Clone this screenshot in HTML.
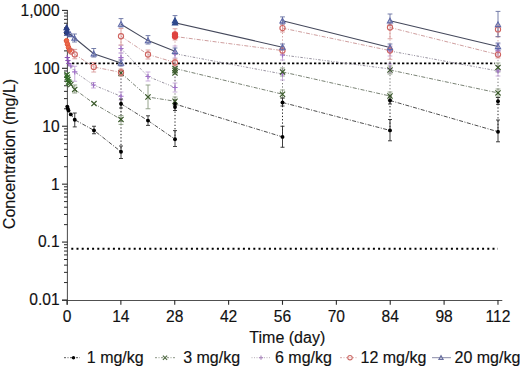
<!DOCTYPE html>
<html><head><meta charset="utf-8"><style>
html,body{margin:0;padding:0;background:#fff;}
svg{display:block;}
.t{font-family:"Liberation Sans",sans-serif;font-size:15.6px;fill:#111;stroke:#111;stroke-width:0.15px;}
.t2{font-family:"Liberation Sans",sans-serif;font-size:16px;fill:#111;stroke:#111;stroke-width:0.15px;}
</style></head><body>
<svg width="520" height="368" viewBox="0 0 520 368">
<rect width="520" height="368" fill="#fff"/>
<line x1="67.4" y1="10" x2="67.4" y2="304.8" stroke="#505050" stroke-width="1.05"/>
<line x1="62" y1="300.5" x2="502.3" y2="300.5" stroke="#505050" stroke-width="1.05"/>
<line x1="62" y1="300.00" x2="67.5" y2="300.00" stroke="#2a2a2a" stroke-width="1.1"/>
<line x1="64" y1="282.56" x2="67.5" y2="282.56" stroke="#2a2a2a" stroke-width="1"/>
<line x1="64" y1="272.37" x2="67.5" y2="272.37" stroke="#2a2a2a" stroke-width="1"/>
<line x1="64" y1="265.13" x2="67.5" y2="265.13" stroke="#2a2a2a" stroke-width="1"/>
<line x1="64" y1="259.52" x2="67.5" y2="259.52" stroke="#2a2a2a" stroke-width="1"/>
<line x1="64" y1="254.93" x2="67.5" y2="254.93" stroke="#2a2a2a" stroke-width="1"/>
<line x1="64" y1="251.05" x2="67.5" y2="251.05" stroke="#2a2a2a" stroke-width="1"/>
<line x1="64" y1="247.69" x2="67.5" y2="247.69" stroke="#2a2a2a" stroke-width="1"/>
<line x1="64" y1="244.73" x2="67.5" y2="244.73" stroke="#2a2a2a" stroke-width="1"/>
<line x1="62" y1="242.08" x2="67.5" y2="242.08" stroke="#2a2a2a" stroke-width="1.1"/>
<line x1="64" y1="224.64" x2="67.5" y2="224.64" stroke="#2a2a2a" stroke-width="1"/>
<line x1="64" y1="214.45" x2="67.5" y2="214.45" stroke="#2a2a2a" stroke-width="1"/>
<line x1="64" y1="207.21" x2="67.5" y2="207.21" stroke="#2a2a2a" stroke-width="1"/>
<line x1="64" y1="201.60" x2="67.5" y2="201.60" stroke="#2a2a2a" stroke-width="1"/>
<line x1="64" y1="197.01" x2="67.5" y2="197.01" stroke="#2a2a2a" stroke-width="1"/>
<line x1="64" y1="193.13" x2="67.5" y2="193.13" stroke="#2a2a2a" stroke-width="1"/>
<line x1="64" y1="189.77" x2="67.5" y2="189.77" stroke="#2a2a2a" stroke-width="1"/>
<line x1="64" y1="186.81" x2="67.5" y2="186.81" stroke="#2a2a2a" stroke-width="1"/>
<line x1="62" y1="184.16" x2="67.5" y2="184.16" stroke="#2a2a2a" stroke-width="1.1"/>
<line x1="64" y1="166.72" x2="67.5" y2="166.72" stroke="#2a2a2a" stroke-width="1"/>
<line x1="64" y1="156.53" x2="67.5" y2="156.53" stroke="#2a2a2a" stroke-width="1"/>
<line x1="64" y1="149.29" x2="67.5" y2="149.29" stroke="#2a2a2a" stroke-width="1"/>
<line x1="64" y1="143.68" x2="67.5" y2="143.68" stroke="#2a2a2a" stroke-width="1"/>
<line x1="64" y1="139.09" x2="67.5" y2="139.09" stroke="#2a2a2a" stroke-width="1"/>
<line x1="64" y1="135.21" x2="67.5" y2="135.21" stroke="#2a2a2a" stroke-width="1"/>
<line x1="64" y1="131.85" x2="67.5" y2="131.85" stroke="#2a2a2a" stroke-width="1"/>
<line x1="64" y1="128.89" x2="67.5" y2="128.89" stroke="#2a2a2a" stroke-width="1"/>
<line x1="62" y1="126.24" x2="67.5" y2="126.24" stroke="#2a2a2a" stroke-width="1.1"/>
<line x1="64" y1="108.80" x2="67.5" y2="108.80" stroke="#2a2a2a" stroke-width="1"/>
<line x1="64" y1="98.61" x2="67.5" y2="98.61" stroke="#2a2a2a" stroke-width="1"/>
<line x1="64" y1="91.37" x2="67.5" y2="91.37" stroke="#2a2a2a" stroke-width="1"/>
<line x1="64" y1="85.76" x2="67.5" y2="85.76" stroke="#2a2a2a" stroke-width="1"/>
<line x1="64" y1="81.17" x2="67.5" y2="81.17" stroke="#2a2a2a" stroke-width="1"/>
<line x1="64" y1="77.29" x2="67.5" y2="77.29" stroke="#2a2a2a" stroke-width="1"/>
<line x1="64" y1="73.93" x2="67.5" y2="73.93" stroke="#2a2a2a" stroke-width="1"/>
<line x1="64" y1="70.97" x2="67.5" y2="70.97" stroke="#2a2a2a" stroke-width="1"/>
<line x1="62" y1="68.32" x2="67.5" y2="68.32" stroke="#2a2a2a" stroke-width="1.1"/>
<line x1="64" y1="50.88" x2="67.5" y2="50.88" stroke="#2a2a2a" stroke-width="1"/>
<line x1="64" y1="40.69" x2="67.5" y2="40.69" stroke="#2a2a2a" stroke-width="1"/>
<line x1="64" y1="33.45" x2="67.5" y2="33.45" stroke="#2a2a2a" stroke-width="1"/>
<line x1="64" y1="27.84" x2="67.5" y2="27.84" stroke="#2a2a2a" stroke-width="1"/>
<line x1="64" y1="23.25" x2="67.5" y2="23.25" stroke="#2a2a2a" stroke-width="1"/>
<line x1="64" y1="19.37" x2="67.5" y2="19.37" stroke="#2a2a2a" stroke-width="1"/>
<line x1="64" y1="16.01" x2="67.5" y2="16.01" stroke="#2a2a2a" stroke-width="1"/>
<line x1="64" y1="13.05" x2="67.5" y2="13.05" stroke="#2a2a2a" stroke-width="1"/>
<line x1="62" y1="10.40" x2="67.5" y2="10.40" stroke="#2a2a2a" stroke-width="1.1"/>
<line x1="67.00" y1="300" x2="67.00" y2="304.8" stroke="#2a2a2a" stroke-width="1.1"/>
<line x1="120.87" y1="300" x2="120.87" y2="304.8" stroke="#2a2a2a" stroke-width="1.1"/>
<line x1="174.74" y1="300" x2="174.74" y2="304.8" stroke="#2a2a2a" stroke-width="1.1"/>
<line x1="228.62" y1="300" x2="228.62" y2="304.8" stroke="#2a2a2a" stroke-width="1.1"/>
<line x1="282.49" y1="300" x2="282.49" y2="304.8" stroke="#2a2a2a" stroke-width="1.1"/>
<line x1="336.36" y1="300" x2="336.36" y2="304.8" stroke="#2a2a2a" stroke-width="1.1"/>
<line x1="390.23" y1="300" x2="390.23" y2="304.8" stroke="#2a2a2a" stroke-width="1.1"/>
<line x1="444.10" y1="300" x2="444.10" y2="304.8" stroke="#2a2a2a" stroke-width="1.1"/>
<line x1="497.98" y1="300" x2="497.98" y2="304.8" stroke="#2a2a2a" stroke-width="1.1"/>
<text x="59.6" y="15.80" text-anchor="end" class="t">1,000</text>
<text x="59.6" y="73.72" text-anchor="end" class="t">100</text>
<text x="59.6" y="131.64" text-anchor="end" class="t">10</text>
<text x="59.6" y="189.56" text-anchor="end" class="t">1</text>
<text x="59.6" y="247.48" text-anchor="end" class="t">0.1</text>
<text x="59.6" y="305.40" text-anchor="end" class="t">0.01</text>
<text x="67.00" y="321.5" text-anchor="middle" class="t">0</text>
<text x="120.87" y="321.5" text-anchor="middle" class="t">14</text>
<text x="174.74" y="321.5" text-anchor="middle" class="t">28</text>
<text x="228.62" y="321.5" text-anchor="middle" class="t">42</text>
<text x="282.49" y="321.5" text-anchor="middle" class="t">56</text>
<text x="336.36" y="321.5" text-anchor="middle" class="t">70</text>
<text x="390.23" y="321.5" text-anchor="middle" class="t">84</text>
<text x="444.10" y="321.5" text-anchor="middle" class="t">98</text>
<text x="497.98" y="321.5" text-anchor="middle" class="t">112</text>
<text x="287.3" y="342.9" text-anchor="middle" class="t2">Time (day)</text>
<text transform="translate(14.6,154) rotate(-90)" text-anchor="middle" class="t2">Concentration (mg/L)</text>
<line x1="72" y1="63.4" x2="495" y2="63.4" stroke="#000" stroke-width="1.8" stroke-dasharray="2.3 2.1"/>
<line x1="71.3" y1="248.7" x2="498" y2="248.7" stroke="#000" stroke-width="2" stroke-dasharray="2 3.2"/>
<polyline points="67.3,57.5 67.9,60.5 68.8,63.5 70.8,66 74.75,71.9 93.5,85 121,96.25" fill="none" stroke="#8a8494" stroke-width="0.9" stroke-dasharray="2.5 1.5 1 1.5 1 1.5"/>
<polyline points="121,57.6" fill="none" stroke="#8a8494" stroke-width="0.9" stroke-dasharray="2.5 1.5 1 1.5 1 1.5"/>
<polyline points="121,48.5 148,76.5 175,87.5" fill="none" stroke="#8a8494" stroke-width="0.9" stroke-dasharray="2.5 1.5 1 1.5 1 1.5"/>
<polyline points="175,53.75 282.5,74" fill="none" stroke="#8a8494" stroke-width="0.9" stroke-dasharray="2.5 1.5 1 1.5 1 1.5"/>
<polyline points="282.5,55 390,69" fill="none" stroke="#8a8494" stroke-width="0.9" stroke-dasharray="2.5 1.5 1 1.5 1 1.5"/>
<polyline points="390,51 498,71" fill="none" stroke="#8a8494" stroke-width="0.9" stroke-dasharray="2.5 1.5 1 1.5 1 1.5"/>
<polyline points="498,51" fill="none" stroke="#8a8494" stroke-width="0.9" stroke-dasharray="2.5 1.5 1 1.5 1 1.5"/>
<line x1="121" y1="96.25" x2="121" y2="57.6" stroke="#a898b0" stroke-width="1" stroke-dasharray="1.3 2"/>
<line x1="121" y1="57.6" x2="121" y2="48.5" stroke="#a898b0" stroke-width="1" stroke-dasharray="1.3 2"/>
<line x1="175" y1="87.5" x2="175" y2="53.75" stroke="#a898b0" stroke-width="1" stroke-dasharray="1.3 2"/>
<line x1="282.5" y1="74" x2="282.5" y2="55" stroke="#a898b0" stroke-width="1" stroke-dasharray="1.3 2"/>
<line x1="390" y1="69" x2="390" y2="51" stroke="#a898b0" stroke-width="1" stroke-dasharray="1.3 2"/>
<line x1="498" y1="71" x2="498" y2="51" stroke="#a898b0" stroke-width="1" stroke-dasharray="1.3 2"/>
<polyline points="67.0,74.8 67.4,77.2 67.9,79.6 68.6,82 69.5,83.2 70.8,84.5 74.75,89.4 94,103.6 121,119.4" fill="none" stroke="#6a7464" stroke-width="0.9" stroke-dasharray="4 1.5 1 1.5"/>
<polyline points="121,73 148,97 175,101.25" fill="none" stroke="#6a7464" stroke-width="0.9" stroke-dasharray="4 1.5 1 1.5"/>
<polyline points="175,70.5 175,73 175,68.5 282.5,94.2" fill="none" stroke="#6a7464" stroke-width="0.9" stroke-dasharray="4 1.5 1 1.5"/>
<polyline points="282.5,71.9 390,96" fill="none" stroke="#6a7464" stroke-width="0.9" stroke-dasharray="4 1.5 1 1.5"/>
<polyline points="390,70 498,92.9" fill="none" stroke="#6a7464" stroke-width="0.9" stroke-dasharray="4 1.5 1 1.5"/>
<polyline points="498,67.4" fill="none" stroke="#6a7464" stroke-width="0.9" stroke-dasharray="4 1.5 1 1.5"/>
<line x1="121" y1="119.4" x2="121" y2="73" stroke="#777" stroke-width="1" stroke-dasharray="1.3 2"/>
<line x1="175" y1="101.25" x2="175" y2="70.5" stroke="#777" stroke-width="1" stroke-dasharray="1.3 2"/>
<line x1="282.5" y1="94.2" x2="282.5" y2="71.9" stroke="#777" stroke-width="1" stroke-dasharray="1.3 2"/>
<line x1="390" y1="96" x2="390" y2="70" stroke="#777" stroke-width="1" stroke-dasharray="1.3 2"/>
<line x1="498" y1="92.9" x2="498" y2="67.4" stroke="#777" stroke-width="1" stroke-dasharray="1.3 2"/>
<polyline points="67.3,106.6 67.8,108.6 68.5,110.6 70.8,114.4 74.75,119.75 94,130.4 121,151.7" fill="none" stroke="#3a3a3a" stroke-width="0.9" stroke-dasharray="4 1.5 1 1.5"/>
<polyline points="121,103.7 148,120.6 175,139.2" fill="none" stroke="#3a3a3a" stroke-width="0.9" stroke-dasharray="4 1.5 1 1.5"/>
<polyline points="175,107 175,104 282.5,136.9" fill="none" stroke="#3a3a3a" stroke-width="0.9" stroke-dasharray="4 1.5 1 1.5"/>
<polyline points="282.5,102.5 390,130.4" fill="none" stroke="#3a3a3a" stroke-width="0.9" stroke-dasharray="4 1.5 1 1.5"/>
<polyline points="390,100.5 498,131.7" fill="none" stroke="#3a3a3a" stroke-width="0.9" stroke-dasharray="4 1.5 1 1.5"/>
<polyline points="498,101.3" fill="none" stroke="#3a3a3a" stroke-width="0.9" stroke-dasharray="4 1.5 1 1.5"/>
<line x1="121" y1="151.7" x2="121" y2="103.7" stroke="#222" stroke-width="1" stroke-dasharray="1.3 2"/>
<line x1="175" y1="139.2" x2="175" y2="107" stroke="#222" stroke-width="1" stroke-dasharray="1.3 2"/>
<line x1="282.5" y1="136.9" x2="282.5" y2="102.5" stroke="#222" stroke-width="1" stroke-dasharray="1.3 2"/>
<line x1="390" y1="130.4" x2="390" y2="100.5" stroke="#222" stroke-width="1" stroke-dasharray="1.3 2"/>
<line x1="498" y1="131.7" x2="498" y2="101.3" stroke="#222" stroke-width="1" stroke-dasharray="1.3 2"/>
<polyline points="66.5,40.8 67.5,44.2 68.5,47.4 69.8,50.2 71.2,51.5 74.75,54.4 93.75,66.9 121,72.5" fill="none" stroke="#c99494" stroke-width="0.9" stroke-dasharray="4 1.5 1 1.5"/>
<polyline points="121,36.25 148,54.5 175,62.5" fill="none" stroke="#c99494" stroke-width="0.9" stroke-dasharray="4 1.5 1 1.5"/>
<polyline points="175,34.4 175,36.5 282.5,50.6" fill="none" stroke="#c99494" stroke-width="0.9" stroke-dasharray="4 1.5 1 1.5"/>
<polyline points="282.5,28.1 390,50.6" fill="none" stroke="#c99494" stroke-width="0.9" stroke-dasharray="4 1.5 1 1.5"/>
<polyline points="390,27.5 498,54.6" fill="none" stroke="#c99494" stroke-width="0.9" stroke-dasharray="4 1.5 1 1.5"/>
<polyline points="498,29.4" fill="none" stroke="#c99494" stroke-width="0.9" stroke-dasharray="4 1.5 1 1.5"/>
<line x1="121" y1="72.5" x2="121" y2="36.25" stroke="#d0a0a0" stroke-width="1" stroke-dasharray="1.3 2"/>
<line x1="175" y1="62.5" x2="175" y2="34.4" stroke="#d0a0a0" stroke-width="1" stroke-dasharray="1.3 2"/>
<line x1="282.5" y1="50.6" x2="282.5" y2="28.1" stroke="#d0a0a0" stroke-width="1" stroke-dasharray="1.3 2"/>
<line x1="390" y1="50.6" x2="390" y2="27.5" stroke="#d0a0a0" stroke-width="1" stroke-dasharray="1.3 2"/>
<line x1="498" y1="54.6" x2="498" y2="29.4" stroke="#d0a0a0" stroke-width="1" stroke-dasharray="1.3 2"/>
<polyline points="66.6,27.6 66.9,30.3 67.3,33 70.3,34.5 74.5,38 93.75,53.75 121,63.1" fill="none" stroke="#45495c" stroke-width="1.1"/>
<polyline points="121,24.2 148,40.6 175,51.25" fill="none" stroke="#45495c" stroke-width="1.1"/>
<polyline points="175,20.6 175,22.8 282.5,47.2" fill="none" stroke="#45495c" stroke-width="1.1"/>
<polyline points="282.5,20.8 390,47.5" fill="none" stroke="#45495c" stroke-width="1.1"/>
<polyline points="390,20.8 498,46.5" fill="none" stroke="#45495c" stroke-width="1.1"/>
<polyline points="498,24.5" fill="none" stroke="#45495c" stroke-width="1.1"/>
<path d="M74.75,66.25V81.25M72.35,66.25H77.15M72.35,81.25H77.15" stroke="#c4a6d8" stroke-width="0.9" fill="none"/><path d="M93.5,82.5V88M91.1,82.5H95.9M91.1,88H95.9" stroke="#c4a6d8" stroke-width="0.9" fill="none"/><path d="M121,92V100M118.6,92H123.4M118.6,100H123.4" stroke="#c4a6d8" stroke-width="0.9" fill="none"/><path d="M121,53V60M118.6,53H123.4M118.6,60H123.4" stroke="#c4a6d8" stroke-width="0.9" fill="none"/><path d="M121,45.3V53M118.6,45.3H123.4M118.6,53H123.4" stroke="#c4a6d8" stroke-width="0.9" fill="none"/><path d="M148,72V81M145.6,72H150.4M145.6,81H150.4" stroke="#c4a6d8" stroke-width="0.9" fill="none"/><path d="M175,83V92M172.6,83H177.4M172.6,92H177.4" stroke="#c4a6d8" stroke-width="0.9" fill="none"/><path d="M175,46V58M172.6,46H177.4M172.6,58H177.4" stroke="#c4a6d8" stroke-width="0.9" fill="none"/><path d="M282.5,70V80M280.1,70H284.9M280.1,80H284.9" stroke="#c4a6d8" stroke-width="0.9" fill="none"/><path d="M282.5,50V60M280.1,50H284.9M280.1,60H284.9" stroke="#c4a6d8" stroke-width="0.9" fill="none"/><path d="M390,64V73M387.6,64H392.4M387.6,73H392.4" stroke="#c4a6d8" stroke-width="0.9" fill="none"/><path d="M390,46V56M387.6,46H392.4M387.6,56H392.4" stroke="#c4a6d8" stroke-width="0.9" fill="none"/><path d="M498,66V76M495.6,66H500.4M495.6,76H500.4" stroke="#c4a6d8" stroke-width="0.9" fill="none"/><path d="M498,44V56M495.6,44H500.4M495.6,56H500.4" stroke="#c4a6d8" stroke-width="0.9" fill="none"/>
<path d="M74.75,85V93M72.35,85H77.15M72.35,93H77.15" stroke="#8a9a80" stroke-width="0.9" fill="none"/><path d="M121,115.6V124.4M118.6,115.6H123.4M118.6,124.4H123.4" stroke="#8a9a80" stroke-width="0.9" fill="none"/><path d="M121,70V76M118.6,70H123.4M118.6,76H123.4" stroke="#8a9a80" stroke-width="0.9" fill="none"/><path d="M148,85V108.75M145.6,85H150.4M145.6,108.75H150.4" stroke="#8a9a80" stroke-width="0.9" fill="none"/><path d="M175,97V105M172.6,97H177.4M172.6,105H177.4" stroke="#8a9a80" stroke-width="0.9" fill="none"/><path d="M175,67V74M172.6,67H177.4M172.6,74H177.4" stroke="#8a9a80" stroke-width="0.9" fill="none"/><path d="M282.5,90V98M280.1,90H284.9M280.1,98H284.9" stroke="#8a9a80" stroke-width="0.9" fill="none"/><path d="M282.5,68V76M280.1,68H284.9M280.1,76H284.9" stroke="#8a9a80" stroke-width="0.9" fill="none"/><path d="M390,92V100M387.6,92H392.4M387.6,100H392.4" stroke="#8a9a80" stroke-width="0.9" fill="none"/><path d="M390,66V74M387.6,66H392.4M387.6,74H392.4" stroke="#8a9a80" stroke-width="0.9" fill="none"/><path d="M498,89V97M495.6,89H500.4M495.6,97H500.4" stroke="#8a9a80" stroke-width="0.9" fill="none"/><path d="M498,63V72M495.6,63H500.4M495.6,72H500.4" stroke="#8a9a80" stroke-width="0.9" fill="none"/>
<path d="M74.75,113V126.9M72.75,113H76.75M72.75,126.9H76.75" stroke="#2a2a2a" stroke-width="0.9" fill="none"/><path d="M94,126.25V133.75M92.0,126.25H96.0M92.0,133.75H96.0" stroke="#2a2a2a" stroke-width="0.9" fill="none"/><path d="M121,146V158.5M119.0,146H123.0M119.0,158.5H123.0" stroke="#2a2a2a" stroke-width="0.9" fill="none"/><path d="M121,99V108M119.0,99H123.0M119.0,108H123.0" stroke="#2a2a2a" stroke-width="0.9" fill="none"/><path d="M148,115.8V125.4M146.0,115.8H150.0M146.0,125.4H150.0" stroke="#2a2a2a" stroke-width="0.9" fill="none"/><path d="M175,130.6V146.5M173.0,130.6H177.0M173.0,146.5H177.0" stroke="#2a2a2a" stroke-width="0.9" fill="none"/><path d="M175,100V110.5M173.0,100H177.0M173.0,110.5H177.0" stroke="#2a2a2a" stroke-width="0.9" fill="none"/><path d="M282.5,126.25V147.25M280.5,126.25H284.5M280.5,147.25H284.5" stroke="#2a2a2a" stroke-width="0.9" fill="none"/><path d="M282.5,98V106M280.5,98H284.5M280.5,106H284.5" stroke="#2a2a2a" stroke-width="0.9" fill="none"/><path d="M390,119.5V140.8M388.0,119.5H392.0M388.0,140.8H392.0" stroke="#2a2a2a" stroke-width="0.9" fill="none"/><path d="M390,96V104M388.0,96H392.0M388.0,104H392.0" stroke="#2a2a2a" stroke-width="0.9" fill="none"/><path d="M498,120V141.8M496.0,120H500.0M496.0,141.8H500.0" stroke="#2a2a2a" stroke-width="0.9" fill="none"/><path d="M498,97.5V104.3M496.0,97.5H500.0M496.0,104.3H500.0" stroke="#2a2a2a" stroke-width="0.9" fill="none"/>
<path d="M74.75,49.4V58.75M72.35,49.4H77.15M72.35,58.75H77.15" stroke="#d89a9a" stroke-width="0.9" fill="none"/><path d="M93.75,62.5V72M91.35,62.5H96.15M91.35,72H96.15" stroke="#d89a9a" stroke-width="0.9" fill="none"/><path d="M121,69V76M118.6,69H123.4M118.6,76H123.4" stroke="#d89a9a" stroke-width="0.9" fill="none"/><path d="M121,28.5V45M118.6,28.5H123.4M118.6,45H123.4" stroke="#d89a9a" stroke-width="0.9" fill="none"/><path d="M148,50V59M145.6,50H150.4M145.6,59H150.4" stroke="#d89a9a" stroke-width="0.9" fill="none"/><path d="M175,59V66M172.6,59H177.4M172.6,66H177.4" stroke="#d89a9a" stroke-width="0.9" fill="none"/><path d="M175,28.75V40M172.6,28.75H177.4M172.6,40H177.4" stroke="#d89a9a" stroke-width="0.9" fill="none"/><path d="M282.5,47V54M280.1,47H284.9M280.1,54H284.9" stroke="#d89a9a" stroke-width="0.9" fill="none"/><path d="M282.5,24V32M280.1,24H284.9M280.1,32H284.9" stroke="#d89a9a" stroke-width="0.9" fill="none"/><path d="M390,47V59.3M387.6,47H392.4M387.6,59.3H392.4" stroke="#d89a9a" stroke-width="0.9" fill="none"/><path d="M390,23V38.75M387.6,23H392.4M387.6,38.75H392.4" stroke="#d89a9a" stroke-width="0.9" fill="none"/><path d="M498,51V58M495.6,51H500.4M495.6,58H500.4" stroke="#d89a9a" stroke-width="0.9" fill="none"/><path d="M498,25V36.7M495.6,25H500.4M495.6,36.7H500.4" stroke="#d89a9a" stroke-width="0.9" fill="none"/>
<path d="M74.5,34V42M72.1,34H76.9M72.1,42H76.9" stroke="#6670a0" stroke-width="0.9" fill="none"/><path d="M93.75,48.5V57M91.35,48.5H96.15M91.35,57H96.15" stroke="#6670a0" stroke-width="0.9" fill="none"/><path d="M121,60V66M118.6,60H123.4M118.6,66H123.4" stroke="#6670a0" stroke-width="0.9" fill="none"/><path d="M121,18.6V27M118.6,18.6H123.4M118.6,27H123.4" stroke="#6670a0" stroke-width="0.9" fill="none"/><path d="M148,35.6V44M145.6,35.6H150.4M145.6,44H150.4" stroke="#6670a0" stroke-width="0.9" fill="none"/><path d="M175,48V54M172.6,48H177.4M172.6,54H177.4" stroke="#6670a0" stroke-width="0.9" fill="none"/><path d="M175,15.6V24M172.6,15.6H177.4M172.6,24H177.4" stroke="#6670a0" stroke-width="0.9" fill="none"/><path d="M282.5,44V50M280.1,44H284.9M280.1,50H284.9" stroke="#6670a0" stroke-width="0.9" fill="none"/><path d="M282.5,16.9V24M280.1,16.9H284.9M280.1,24H284.9" stroke="#6670a0" stroke-width="0.9" fill="none"/><path d="M390,44V50M387.6,44H392.4M387.6,50H392.4" stroke="#6670a0" stroke-width="0.9" fill="none"/><path d="M390,14V25M387.6,14H392.4M387.6,25H392.4" stroke="#6670a0" stroke-width="0.9" fill="none"/><path d="M498,43V50M495.6,43H500.4M495.6,50H500.4" stroke="#6670a0" stroke-width="0.9" fill="none"/><path d="M498,11.4V36.7M495.6,11.4H500.4M495.6,36.7H500.4" stroke="#6670a0" stroke-width="0.9" fill="none"/>
<path d="M64.7,57.5L69.89999999999999,57.5M67.3,54.9L67.3,60.1" stroke="#8a52b4" stroke-width="1.2" fill="none"/>
<path d="M65.30000000000001,60.5L70.5,60.5M67.9,57.9L67.9,63.1" stroke="#8a52b4" stroke-width="1.2" fill="none"/>
<path d="M66.2,63.5L71.39999999999999,63.5M68.8,60.9L68.8,66.1" stroke="#8a52b4" stroke-width="1.2" fill="none"/>
<path d="M68.2,66L73.39999999999999,66M70.8,63.4L70.8,68.6" stroke="#a070c8" stroke-width="1.2" fill="none"/>
<path d="M72.15,71.9L77.35,71.9M74.75,69.30000000000001L74.75,74.5" stroke="#a070c8" stroke-width="1.2" fill="none"/>
<path d="M90.9,85L96.1,85M93.5,82.4L93.5,87.6" stroke="#a070c8" stroke-width="1.2" fill="none"/>
<path d="M118.4,96.25L123.6,96.25M121,93.65L121,98.85" stroke="#a070c8" stroke-width="1.2" fill="none"/>
<path d="M118.4,57.6L123.6,57.6M121,55.0L121,60.2" stroke="#a070c8" stroke-width="1.2" fill="none"/>
<path d="M118.4,48.5L123.6,48.5M121,45.9L121,51.1" stroke="#a070c8" stroke-width="1.2" fill="none"/>
<path d="M145.4,76.5L150.6,76.5M148,73.9L148,79.1" stroke="#a070c8" stroke-width="1.2" fill="none"/>
<path d="M172.4,87.5L177.6,87.5M175,84.9L175,90.1" stroke="#a070c8" stroke-width="1.2" fill="none"/>
<path d="M172.4,53.75L177.6,53.75M175,51.15L175,56.35" stroke="#a070c8" stroke-width="1.2" fill="none"/>
<path d="M279.9,74L285.1,74M282.5,71.4L282.5,76.6" stroke="#a070c8" stroke-width="1.2" fill="none"/>
<path d="M279.9,55L285.1,55M282.5,52.4L282.5,57.6" stroke="#a070c8" stroke-width="1.2" fill="none"/>
<path d="M387.4,69L392.6,69M390,66.4L390,71.6" stroke="#a070c8" stroke-width="1.2" fill="none"/>
<path d="M387.4,51L392.6,51M390,48.4L390,53.6" stroke="#a070c8" stroke-width="1.2" fill="none"/>
<path d="M495.4,71L500.6,71M498,68.4L498,73.6" stroke="#a070c8" stroke-width="1.2" fill="none"/>
<path d="M495.4,51L500.6,51M498,48.4L498,53.6" stroke="#a070c8" stroke-width="1.2" fill="none"/>
<path d="M64.4,72.2L69.6,77.39999999999999M64.4,77.39999999999999L69.6,72.2" stroke="#2f6a22" stroke-width="1.2" fill="none"/>
<path d="M64.80000000000001,74.60000000000001L70.0,79.8M64.80000000000001,79.8L70.0,74.60000000000001" stroke="#2f6a22" stroke-width="1.2" fill="none"/>
<path d="M65.30000000000001,77.0L70.5,82.19999999999999M65.30000000000001,82.19999999999999L70.5,77.0" stroke="#2f6a22" stroke-width="1.2" fill="none"/>
<path d="M66.0,79.4L71.19999999999999,84.6M66.0,84.6L71.19999999999999,79.4" stroke="#2f6a22" stroke-width="1.2" fill="none"/>
<path d="M66.9,80.60000000000001L72.1,85.8M66.9,85.8L72.1,80.60000000000001" stroke="#2f6a22" stroke-width="1.2" fill="none"/>
<path d="M68.2,81.9L73.39999999999999,87.1M68.2,87.1L73.39999999999999,81.9" stroke="#3a5a2a" stroke-width="1.2" fill="none"/>
<path d="M72.15,86.80000000000001L77.35,92.0M72.15,92.0L77.35,86.80000000000001" stroke="#3a5a2a" stroke-width="1.2" fill="none"/>
<path d="M91.4,101.0L96.6,106.19999999999999M91.4,106.19999999999999L96.6,101.0" stroke="#3a5a2a" stroke-width="1.2" fill="none"/>
<path d="M118.4,116.80000000000001L123.6,122.0M118.4,122.0L123.6,116.80000000000001" stroke="#3a5a2a" stroke-width="1.2" fill="none"/>
<path d="M118.4,70.4L123.6,75.6M118.4,75.6L123.6,70.4" stroke="#3a5a2a" stroke-width="1.2" fill="none"/>
<path d="M145.4,94.4L150.6,99.6M145.4,99.6L150.6,94.4" stroke="#3a5a2a" stroke-width="1.2" fill="none"/>
<path d="M172.4,98.65L177.6,103.85M172.4,103.85L177.6,98.65" stroke="#3a5a2a" stroke-width="1.2" fill="none"/>
<path d="M172.4,67.9L177.6,73.1M172.4,73.1L177.6,67.9" stroke="#3a5a2a" stroke-width="1.2" fill="none"/>
<path d="M172.4,70.4L177.6,75.6M172.4,75.6L177.6,70.4" stroke="#3a5a2a" stroke-width="1.2" fill="none"/>
<path d="M172.4,65.9L177.6,71.1M172.4,71.1L177.6,65.9" stroke="#3a5a2a" stroke-width="1.2" fill="none"/>
<path d="M279.9,91.60000000000001L285.1,96.8M279.9,96.8L285.1,91.60000000000001" stroke="#3a5a2a" stroke-width="1.2" fill="none"/>
<path d="M279.9,69.30000000000001L285.1,74.5M279.9,74.5L285.1,69.30000000000001" stroke="#3a5a2a" stroke-width="1.2" fill="none"/>
<path d="M387.4,93.4L392.6,98.6M387.4,98.6L392.6,93.4" stroke="#3a5a2a" stroke-width="1.2" fill="none"/>
<path d="M387.4,67.4L392.6,72.6M387.4,72.6L392.6,67.4" stroke="#3a5a2a" stroke-width="1.2" fill="none"/>
<path d="M495.4,90.30000000000001L500.6,95.5M495.4,95.5L500.6,90.30000000000001" stroke="#3a5a2a" stroke-width="1.2" fill="none"/>
<path d="M495.4,64.80000000000001L500.6,70.0M495.4,70.0L500.6,64.80000000000001" stroke="#3a5a2a" stroke-width="1.2" fill="none"/>
<circle cx="67.3" cy="106.6" r="1.95" fill="#000"/>
<circle cx="67.8" cy="108.6" r="1.95" fill="#000"/>
<circle cx="68.5" cy="110.6" r="1.95" fill="#000"/>
<circle cx="70.8" cy="114.4" r="1.95" fill="#000"/>
<circle cx="74.75" cy="119.75" r="1.95" fill="#000"/>
<circle cx="94" cy="130.4" r="1.95" fill="#000"/>
<circle cx="121" cy="151.7" r="1.95" fill="#000"/>
<circle cx="121" cy="103.7" r="1.95" fill="#000"/>
<circle cx="148" cy="120.6" r="1.95" fill="#000"/>
<circle cx="175" cy="139.2" r="1.95" fill="#000"/>
<circle cx="175" cy="107" r="1.95" fill="#000"/>
<circle cx="175" cy="104" r="1.95" fill="#000"/>
<circle cx="282.5" cy="136.9" r="1.95" fill="#000"/>
<circle cx="282.5" cy="102.5" r="1.95" fill="#000"/>
<circle cx="390" cy="130.4" r="1.95" fill="#000"/>
<circle cx="390" cy="100.5" r="1.95" fill="#000"/>
<circle cx="498" cy="131.7" r="1.95" fill="#000"/>
<circle cx="498" cy="101.3" r="1.95" fill="#000"/>
<circle cx="66.5" cy="40.8" r="2.3" fill="#ec6a48" stroke="#e4563c" stroke-width="1"/>
<circle cx="67.5" cy="44.2" r="2.3" fill="#ec6a48" stroke="#e4563c" stroke-width="1"/>
<circle cx="68.5" cy="47.4" r="2.3" fill="#ec6a48" stroke="#e4563c" stroke-width="1"/>
<circle cx="69.8" cy="50.2" r="2.3" fill="#ec6a48" stroke="#e4563c" stroke-width="1"/>
<circle cx="71.2" cy="51.5" r="2.6" fill="none" stroke="#cf6460" stroke-width="1.1"/>
<circle cx="74.75" cy="54.4" r="2.6" fill="none" stroke="#cf6460" stroke-width="1.1"/>
<circle cx="93.75" cy="66.9" r="2.6" fill="none" stroke="#cf6460" stroke-width="1.1"/>
<circle cx="121" cy="72.5" r="2.6" fill="none" stroke="#cf6460" stroke-width="1.1"/>
<circle cx="121" cy="36.25" r="2.6" fill="none" stroke="#cf6460" stroke-width="1.1"/>
<circle cx="148" cy="54.5" r="2.6" fill="none" stroke="#cf6460" stroke-width="1.1"/>
<circle cx="175" cy="62.5" r="2.6" fill="none" stroke="#cf6460" stroke-width="1.1"/>
<circle cx="175" cy="34.4" r="2.6" fill="#de4440" stroke="#de4440" stroke-width="1.1"/>
<circle cx="175" cy="36.5" r="2.6" fill="#de4440" stroke="#de4440" stroke-width="1.1"/>
<circle cx="282.5" cy="50.6" r="2.6" fill="none" stroke="#cf6460" stroke-width="1.1"/>
<circle cx="282.5" cy="28.1" r="2.6" fill="none" stroke="#cf6460" stroke-width="1.1"/>
<circle cx="390" cy="50.6" r="2.6" fill="none" stroke="#cf6460" stroke-width="1.1"/>
<circle cx="390" cy="27.5" r="2.6" fill="none" stroke="#cf6460" stroke-width="1.1"/>
<circle cx="498" cy="54.6" r="2.6" fill="none" stroke="#cf6460" stroke-width="1.1"/>
<circle cx="498" cy="29.4" r="2.6" fill="none" stroke="#cf6460" stroke-width="1.1"/>
<path d="M66.6,25.0L69.19999999999999,29.68L63.99999999999999,29.68Z" fill="#2c3f86" stroke="#2c3f86" stroke-width="1.1"/>
<path d="M66.9,27.7L69.5,32.38L64.30000000000001,32.38Z" fill="#2c3f86" stroke="#2c3f86" stroke-width="1.1"/>
<path d="M67.3,30.4L69.89999999999999,35.08L64.7,35.08Z" fill="#2c3f86" stroke="#2c3f86" stroke-width="1.1"/>
<path d="M70.3,31.9L72.89999999999999,36.58L67.7,36.58Z" fill="none" stroke="#5e68a8" stroke-width="1.1"/>
<path d="M74.5,35.4L77.1,40.08L71.9,40.08Z" fill="none" stroke="#5e68a8" stroke-width="1.1"/>
<path d="M93.75,51.15L96.35,55.83L91.15,55.83Z" fill="none" stroke="#5e68a8" stroke-width="1.1"/>
<path d="M121,60.5L123.6,65.18L118.4,65.18Z" fill="none" stroke="#5e68a8" stroke-width="1.1"/>
<path d="M121,21.599999999999998L123.6,26.28L118.4,26.28Z" fill="none" stroke="#5e68a8" stroke-width="1.1"/>
<path d="M148,38.0L150.6,42.68L145.4,42.68Z" fill="none" stroke="#5e68a8" stroke-width="1.1"/>
<path d="M175,48.65L177.6,53.33L172.4,53.33Z" fill="none" stroke="#5e68a8" stroke-width="1.1"/>
<path d="M175,18.0L177.6,22.68L172.4,22.68Z" fill="#2f4a8e" stroke="#2f4a8e" stroke-width="1.1"/>
<path d="M175,20.2L177.6,24.880000000000003L172.4,24.880000000000003Z" fill="#2f4a8e" stroke="#2f4a8e" stroke-width="1.1"/>
<path d="M282.5,44.6L285.1,49.28L279.9,49.28Z" fill="none" stroke="#5e68a8" stroke-width="1.1"/>
<path d="M282.5,18.2L285.1,22.880000000000003L279.9,22.880000000000003Z" fill="none" stroke="#5e68a8" stroke-width="1.1"/>
<path d="M390,44.9L392.6,49.58L387.4,49.58Z" fill="none" stroke="#5e68a8" stroke-width="1.1"/>
<path d="M390,18.2L392.6,22.880000000000003L387.4,22.880000000000003Z" fill="none" stroke="#5e68a8" stroke-width="1.1"/>
<path d="M498,43.9L500.6,48.58L495.4,48.58Z" fill="none" stroke="#5e68a8" stroke-width="1.1"/>
<path d="M498,21.9L500.6,26.58L495.4,26.58Z" fill="none" stroke="#5e68a8" stroke-width="1.1"/>
<line x1="64" y1="357.7" x2="80" y2="357.7" stroke="#555" stroke-width="1" stroke-dasharray="2 1.5 1 1.5"/>
<circle cx="73.5" cy="357.7" r="1.7" fill="#000"/>
<text x="86.8" y="363" class="t2">1 mg/kg</text>
<line x1="155" y1="357.7" x2="175" y2="357.7" stroke="#8a9484" stroke-width="1" stroke-dasharray="2 1.5 1 1.5"/>
<path d="M162.9,355.59999999999997L167.1,359.8M162.9,359.8L167.1,355.59999999999997" stroke="#506a44" stroke-width="1.2" fill="none"/>
<text x="183.2" y="363" class="t2">3 mg/kg</text>
<line x1="251.5" y1="357.7" x2="271" y2="357.7" stroke="#b8b0b8" stroke-width="1" stroke-dasharray="1 1.5"/>
<path d="M258.9,357.7L263.1,357.7M261,355.59999999999997L261,359.8" stroke="#b090c0" stroke-width="1.2" fill="none"/>
<text x="275" y="363" class="t2">6 mg/kg</text>
<line x1="340" y1="357.7" x2="358" y2="357.7" stroke="#d8a8a8" stroke-width="1" stroke-dasharray="2 1.5 1 1.5"/>
<circle cx="350" cy="357.7" r="2.2" fill="none" stroke="#cc6a66" stroke-width="1.1"/>
<text x="360.5" y="363" class="t2">12 mg/kg</text>
<line x1="432" y1="357.7" x2="451" y2="357.7" stroke="#8a8ca8" stroke-width="1"/>
<path d="M441,355.59999999999997L443.1,359.38L438.9,359.38Z" fill="none" stroke="#6a70a0" stroke-width="1.1"/>
<text x="454.5" y="363" class="t2">20 mg/kg</text>
</svg></body></html>
